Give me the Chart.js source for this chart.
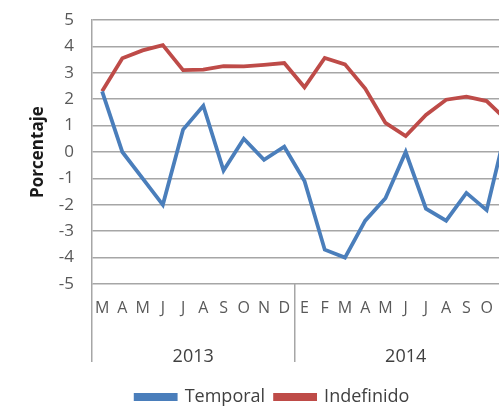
<!DOCTYPE html>
<html>
<head>
<meta charset="utf-8">
<script src="https://cdn.jsdelivr.net/npm/chart.js@4.4.1/dist/chart.umd.min.js"></script>
<style>
  html, body { margin: 0; padding: 0; background: #fff; overflow: hidden; width: 499px; height: 407px; }
  #grafico { display: block; }
</style>
</head>
<body>
<canvas id="grafico" width="545" height="420"></canvas>
<script>
// Meses (E = enero), el gráfico original sigue más allá del borde derecho
const meses = ['M', 'A', 'M', 'J', 'J', 'A', 'S', 'O', 'N', 'D',
               'E', 'F', 'M', 'A', 'M', 'J', 'J', 'A', 'S', 'O', 'N'];
const anios = ['2013', '2014'];
const inicioAnio = [0, 10];

const temporal = [2.3, 0.0, -1.0, -2.0, 0.85, 1.75, -0.7, 0.5, -0.3, 0.2,
                  -1.1, -3.7, -4.0, -2.6, -1.75, 0.0, -2.15, -2.6, -1.55, -2.2, 1.0];
const indefinido = [2.3, 3.55, 3.85, 4.05, 3.1, 3.12, 3.25, 3.24, 3.3, 3.37,
                    2.45, 3.56, 3.32, 2.4, 1.1, 0.6, 1.4, 1.98, 2.1, 1.93, 1.2];

const azul = '#4A7EBB';
const rojo = '#BE4B48';
const gris = '#a6a6a6';
const fuente = 'Open Sans';

// centro de cada grupo de años, en unidades de índice de categoría
function centrosAnios() {
  return anios.map((a, i) => {
    const ini = inicioAnio[i];
    const fin = i + 1 < inicioAnio.length ? inicioAnio[i + 1] - 1 : meses.length - 1;
    return { value: (ini + fin) / 2, label: a };
  });
}

new Chart(document.getElementById('grafico').getContext('2d'), {
  type: 'line',
  data: {
    labels: meses,
    datasets: [
      { label: 'Temporal', data: temporal, borderColor: azul, backgroundColor: azul,
        borderWidth: 3.8, pointRadius: 0, tension: 0, xAxisID: 'x' },
      { label: 'Indefinido', data: indefinido, borderColor: rojo, backgroundColor: rojo,
        borderWidth: 3.8, pointRadius: 0, tension: 0, xAxisID: 'x' }
    ]
  },
  options: {
    responsive: false,
    animation: false,
    layout: { padding: { left: 28, right: 28, top: 20, bottom: 4 } },
    scales: {
      x: {
        type: 'category',
        position: 'bottom',
        offset: true,
        grid: {
          offset: true,
          drawOnChartArea: false,
          drawTicks: true,
          tickLength: 78,
          lineWidth: 1.5,
          color: ctx => inicioAnio.includes(ctx.index) ? gris : 'rgba(0,0,0,0)'
        },
        border: { display: false },
        ticks: {
          autoSkip: false,
          maxRotation: 0,
          padding: -63,
          color: '#595959',
          font: { family: fuente, size: 16 }
        },
        afterFit: s => { s.height = 36; s.paddingLeft = 0; s.paddingRight = 0; }
      },
      anio: {
        type: 'linear',
        position: 'bottom',
        min: -0.5,
        max: meses.length - 0.5,
        grid: { display: false },
        border: { display: false },
        afterBuildTicks: s => { s.ticks = centrosAnios().map(c => ({ value: c.value })); },
        ticks: {
          padding: 18,
          color: '#404040',
          font: { family: fuente, size: 18 },
          callback: v => {
            const c = centrosAnios().find(c => c.value === v);
            return c ? c.label : '';
          }
        },
        afterFit: s => { s.height = 58; s.paddingLeft = 0; s.paddingRight = 0; }
      },
      y: {
        min: -5,
        max: 5,
        ticks: {
          stepSize: 1,
          padding: 18,
          color: '#595959',
          font: { family: fuente, size: 17 }
        },
        grid: { color: gris, lineWidth: 1.5, drawTicks: false },
        border: { color: gris, width: 1.5 },
        title: {
          display: true,
          text: 'Porcentaje',
          color: '#1a1a1a',
          padding: 0,
          font: { family: fuente, size: 17, weight: 'bold' }
        },
        afterFit: s => { s.width = 64; s.paddingTop = 0; s.paddingBottom = 0; }
      }
    },
    plugins: {
      legend: {
        position: 'bottom',
        labels: {
          boxWidth: 40,
          boxHeight: 4,
          padding: 10,
          color: '#404040',
          font: { family: fuente, size: 18 }
        }
      },
      tooltip: { enabled: false }
    }
  }
});
</script>
</body>
</html>
